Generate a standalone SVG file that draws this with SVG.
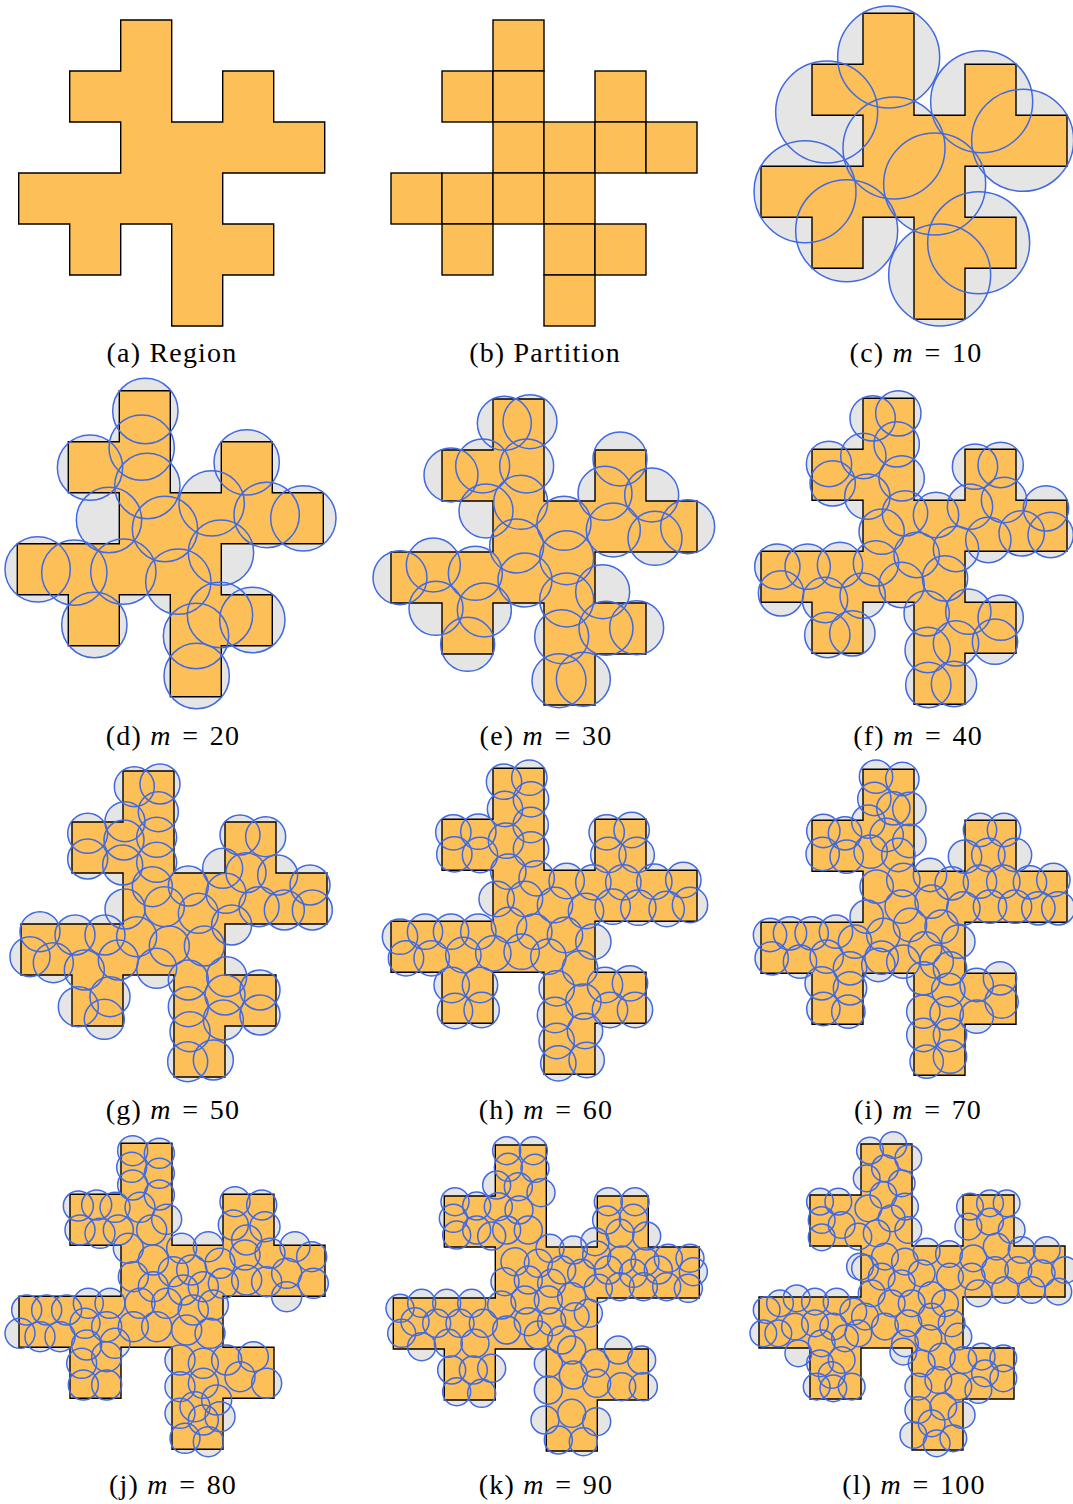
<svg xmlns="http://www.w3.org/2000/svg" xmlns:xlink="http://www.w3.org/1999/xlink" width="1073" height="1504" viewBox="0 0 1073 1504">
<style>
.shape{fill:#FDBF57;stroke:#000;stroke-width:1.4;stroke-linejoin:miter}
.cell{fill:#FDBF57;stroke:#000;stroke-width:1.4}
.halo{fill:#E5E5E5;stroke:none}
.ring{fill:none;stroke:#4169E1;stroke-width:4.5}
.cap{font-family:"Liberation Serif","DejaVu Serif",serif;font-size:28px;letter-spacing:1.2px;text-anchor:middle;fill:#000}
</style>
<defs>
<path id="region" d="M102,0H153V102H204V51H255V102H306V153H204V204H255V255H204V306H153V204H102V255H51V204H0V153H102V102H51V51H102Z"/>
<g id="cc" transform="translate(750,0) scale(0.333333)">
<circle cx="416" cy="171" r="153"/><circle cx="230" cy="336" r="153"/><circle cx="695" cy="305" r="153"/><circle cx="818" cy="421" r="153"/><circle cx="432" cy="444" r="153"/><circle cx="554" cy="552" r="153"/><circle cx="165" cy="575" r="153"/><circle cx="290" cy="692" r="153"/><circle cx="686" cy="728" r="153"/><circle cx="569" cy="825" r="153"/>
</g>
<g id="cd" transform="translate(0,375) scale(0.333333)">
<circle cx="436" cy="108" r="98"/><circle cx="425" cy="218" r="98"/><circle cx="270" cy="278" r="98"/><circle cx="442" cy="333" r="98"/><circle cx="740" cy="262" r="98"/><circle cx="635" cy="385" r="98"/><circle cx="327" cy="435" r="98"/><circle cx="495" cy="462" r="98"/><circle cx="800" cy="420" r="98"/><circle cx="910" cy="430" r="98"/><circle cx="663" cy="533" r="98"/><circle cx="113" cy="583" r="98"/><circle cx="223" cy="593" r="98"/><circle cx="370" cy="590" r="98"/><circle cx="535" cy="620" r="98"/><circle cx="283" cy="750" r="98"/><circle cx="588" cy="783" r="98"/><circle cx="660" cy="720" r="98"/><circle cx="757" cy="735" r="98"/><circle cx="590" cy="903" r="98"/>
</g>
<g id="ce" transform="translate(370,385) scale(0.333333)">
<circle cx="403" cy="115" r="81"/><circle cx="480" cy="110" r="81"/><circle cx="243" cy="270" r="81"/><circle cx="338" cy="243" r="81"/><circle cx="470" cy="243" r="81"/><circle cx="348" cy="378" r="81"/><circle cx="452" cy="352" r="81"/><circle cx="750" cy="222" r="81"/><circle cx="705" cy="325" r="81"/><circle cx="845" cy="330" r="81"/><circle cx="582" cy="415" r="81"/><circle cx="730" cy="435" r="81"/><circle cx="855" cy="460" r="81"/><circle cx="953" cy="425" r="81"/><circle cx="440" cy="483" r="81"/><circle cx="590" cy="518" r="81"/><circle cx="90" cy="578" r="81"/><circle cx="190" cy="540" r="81"/><circle cx="316" cy="565" r="81"/><circle cx="465" cy="585" r="81"/><circle cx="198" cy="670" r="81"/><circle cx="343" cy="675" r="81"/><circle cx="590" cy="645" r="81"/><circle cx="698" cy="620" r="81"/><circle cx="293" cy="778" r="81"/><circle cx="575" cy="755" r="81"/><circle cx="708" cy="730" r="81"/><circle cx="800" cy="728" r="81"/><circle cx="567" cy="887" r="81"/><circle cx="640" cy="883" r="81"/>
</g>
<g id="cf" transform="translate(750,385) scale(0.333333)">
<circle cx="368" cy="100" r="68"/><circle cx="445" cy="85" r="68"/><circle cx="440" cy="178" r="68"/><circle cx="237" cy="237" r="68"/><circle cx="340" cy="213" r="68"/><circle cx="248" cy="295" r="68"/><circle cx="352" cy="335" r="68"/><circle cx="455" cy="280" r="68"/><circle cx="675" cy="245" r="68"/><circle cx="752" cy="240" r="68"/><circle cx="660" cy="365" r="68"/><circle cx="762" cy="345" r="68"/><circle cx="888" cy="370" r="68"/><circle cx="815" cy="445" r="68"/><circle cx="902" cy="450" r="68"/><circle cx="715" cy="465" r="68"/><circle cx="465" cy="385" r="68"/><circle cx="558" cy="390" r="68"/><circle cx="395" cy="440" r="68"/><circle cx="500" cy="510" r="68"/><circle cx="618" cy="492" r="68"/><circle cx="585" cy="580" r="68"/><circle cx="82" cy="545" r="68"/><circle cx="173" cy="545" r="68"/><circle cx="270" cy="540" r="68"/><circle cx="378" cy="535" r="68"/><circle cx="93" cy="625" r="68"/><circle cx="225" cy="645" r="68"/><circle cx="338" cy="632" r="68"/><circle cx="455" cy="600" r="68"/><circle cx="530" cy="685" r="68"/><circle cx="655" cy="680" r="68"/><circle cx="752" cy="698" r="68"/><circle cx="618" cy="775" r="68"/><circle cx="735" cy="770" r="68"/><circle cx="232" cy="750" r="68"/><circle cx="307" cy="745" r="68"/><circle cx="533" cy="795" r="68"/><circle cx="535" cy="900" r="68"/><circle cx="612" cy="897" r="68"/>
</g>
<g id="cg" transform="translate(0,760) scale(0.333333)">
<circle cx="403" cy="80" r="60"/><circle cx="480" cy="72" r="60"/><circle cx="475" cy="155" r="60"/><circle cx="375" cy="185" r="60"/><circle cx="263" cy="220" r="60"/><circle cx="470" cy="232" r="60"/><circle cx="372" cy="240" r="60"/><circle cx="263" cy="297" r="60"/><circle cx="470" cy="307" r="60"/><circle cx="368" cy="315" r="60"/><circle cx="375" cy="447" r="60"/><circle cx="457" cy="380" r="60"/><circle cx="565" cy="378" r="60"/><circle cx="668" cy="325" r="60"/><circle cx="720" cy="225" r="60"/><circle cx="797" cy="230" r="60"/><circle cx="738" cy="338" r="60"/><circle cx="833" cy="345" r="60"/><circle cx="930" cy="375" r="60"/><circle cx="678" cy="400" r="60"/><circle cx="777" cy="440" r="60"/><circle cx="853" cy="450" r="60"/><circle cx="937" cy="450" r="60"/><circle cx="493" cy="440" r="60"/><circle cx="595" cy="460" r="60"/><circle cx="695" cy="495" r="60"/><circle cx="410" cy="530" r="60"/><circle cx="508" cy="558" r="60"/><circle cx="613" cy="558" r="60"/><circle cx="120" cy="515" r="60"/><circle cx="225" cy="525" r="60"/><circle cx="315" cy="525" r="60"/><circle cx="90" cy="590" r="60"/><circle cx="160" cy="608" r="60"/><circle cx="253" cy="630" r="60"/><circle cx="355" cy="600" r="60"/><circle cx="470" cy="625" r="60"/><circle cx="565" cy="660" r="60"/><circle cx="680" cy="650" r="60"/><circle cx="780" cy="690" r="60"/><circle cx="235" cy="740" r="60"/><circle cx="330" cy="710" r="60"/><circle cx="313" cy="778" r="60"/><circle cx="565" cy="740" r="60"/><circle cx="675" cy="705" r="60"/><circle cx="670" cy="780" r="60"/><circle cx="780" cy="765" r="60"/><circle cx="570" cy="815" r="60"/><circle cx="563" cy="905" r="60"/><circle cx="640" cy="900" r="60"/>
</g>
<g id="ch" transform="translate(375,755) scale(0.333333)">
<circle cx="387" cy="80" r="53"/><circle cx="463" cy="68" r="53"/><circle cx="468" cy="133" r="53"/><circle cx="390" cy="162" r="53"/><circle cx="467" cy="210" r="53"/><circle cx="393" cy="257" r="53"/><circle cx="468" cy="283" r="53"/>
<circle cx="235" cy="232" r="53"/><circle cx="310" cy="230" r="53"/><circle cx="238" cy="298" r="53"/><circle cx="315" cy="300" r="53"/>
<circle cx="400" cy="350" r="53"/><circle cx="485" cy="370" r="53"/><circle cx="575" cy="378" r="53"/><circle cx="365" cy="432" r="53"/><circle cx="450" cy="432" r="53"/><circle cx="540" cy="450" r="53"/>
<circle cx="655" cy="382" r="53"/><circle cx="745" cy="382" r="53"/><circle cx="838" cy="380" r="53"/><circle cx="925" cy="375" r="53"/><circle cx="633" cy="468" r="53"/><circle cx="713" cy="455" r="53"/><circle cx="790" cy="458" r="53"/><circle cx="875" cy="462" r="53"/><circle cx="945" cy="450" r="53"/>
<circle cx="695" cy="232" r="53"/><circle cx="770" cy="225" r="53"/><circle cx="700" cy="300" r="53"/><circle cx="785" cy="300" r="53"/>
<circle cx="402" cy="510" r="53"/><circle cx="478" cy="530" r="53"/><circle cx="570" cy="540" r="53"/><circle cx="655" cy="560" r="53"/>
<circle cx="75" cy="545" r="53"/><circle cx="150" cy="530" r="53"/><circle cx="228" cy="530" r="53"/><circle cx="310" cy="530" r="53"/><circle cx="93" cy="610" r="53"/><circle cx="170" cy="610" r="53"/><circle cx="265" cy="600" r="53"/><circle cx="355" cy="595" r="53"/><circle cx="440" cy="590" r="53"/><circle cx="520" cy="605" r="53"/>
<circle cx="230" cy="690" r="53"/><circle cx="315" cy="690" r="53"/><circle cx="240" cy="768" r="53"/><circle cx="320" cy="765" r="53"/>
<circle cx="615" cy="640" r="53"/><circle cx="545" cy="700" r="53"/><circle cx="625" cy="740" r="53"/><circle cx="690" cy="690" r="53"/><circle cx="765" cy="685" r="53"/><circle cx="705" cy="765" r="53"/><circle cx="780" cy="765" r="53"/>
<circle cx="540" cy="780" r="53"/><circle cx="545" cy="858" r="53"/><circle cx="630" cy="828" r="53"/><circle cx="550" cy="925" r="53"/><circle cx="635" cy="915" r="53"/>
</g>
<g id="ci" transform="translate(750,755) scale(0.333333)">
<circle cx="378" cy="65" r="50"/><circle cx="457" cy="72" r="50"/><circle cx="373" cy="132" r="50"/><circle cx="430" cy="160" r="50"/><circle cx="478" cy="162" r="50"/><circle cx="355" cy="200" r="50"/><circle cx="410" cy="240" r="50"/><circle cx="478" cy="258" r="50"/><circle cx="362" cy="290" r="50"/><circle cx="445" cy="300" r="50"/>
<circle cx="220" cy="228" r="50"/><circle cx="285" cy="235" r="50"/><circle cx="218" cy="297" r="50"/><circle cx="290" cy="305" r="50"/>
<circle cx="690" cy="225" r="50"/><circle cx="762" cy="225" r="50"/><circle cx="645" cy="305" r="50"/><circle cx="715" cy="300" r="50"/><circle cx="795" cy="300" r="50"/>
<circle cx="540" cy="360" r="50"/><circle cx="605" cy="385" r="50"/><circle cx="690" cy="380" r="50"/><circle cx="760" cy="380" r="50"/><circle cx="840" cy="382" r="50"/><circle cx="910" cy="375" r="50"/><circle cx="640" cy="460" r="50"/><circle cx="720" cy="455" r="50"/><circle cx="795" cy="455" r="50"/><circle cx="865" cy="460" r="50"/><circle cx="925" cy="460" r="50"/>
<circle cx="380" cy="395" r="50"/><circle cx="460" cy="375" r="50"/><circle cx="545" cy="440" r="50"/><circle cx="455" cy="455" r="50"/><circle cx="350" cy="485" r="50"/><circle cx="400" cy="540" r="50"/><circle cx="480" cy="510" r="50"/><circle cx="575" cy="515" r="50"/><circle cx="625" cy="560" r="50"/><circle cx="525" cy="580" r="50"/><circle cx="395" cy="608" r="50"/>
<circle cx="60" cy="540" r="50"/><circle cx="120" cy="535" r="50"/><circle cx="185" cy="535" r="50"/><circle cx="258" cy="530" r="50"/><circle cx="315" cy="560" r="50"/><circle cx="65" cy="610" r="50"/><circle cx="150" cy="620" r="50"/><circle cx="230" cy="605" r="50"/><circle cx="300" cy="640" r="50"/><circle cx="385" cy="630" r="50"/><circle cx="460" cy="620" r="50"/>
<circle cx="215" cy="685" r="50"/><circle cx="300" cy="700" r="50"/><circle cx="220" cy="762" r="50"/><circle cx="295" cy="770" r="50"/>
<circle cx="520" cy="670" r="50"/><circle cx="600" cy="640" r="50"/><circle cx="595" cy="705" r="50"/><circle cx="680" cy="690" r="50"/><circle cx="750" cy="670" r="50"/><circle cx="755" cy="740" r="50"/><circle cx="680" cy="785" r="50"/><circle cx="520" cy="770" r="50"/><circle cx="600" cy="840" r="50"/><circle cx="520" cy="840" r="50"/><circle cx="600" cy="905" r="50"/><circle cx="530" cy="920" r="50"/><circle cx="560" cy="620" r="50"/><circle cx="590" cy="775" r="50"/>
</g>
<g id="cj" transform="translate(0,1130) scale(0.333333)">
<circle cx="398" cy="62" r="45"/><circle cx="478" cy="70" r="45"/><circle cx="395" cy="112" r="45"/><circle cx="478" cy="130" r="45"/><circle cx="398" cy="165" r="45"/><circle cx="478" cy="195" r="45"/><circle cx="420" cy="232" r="45"/><circle cx="500" cy="268" r="45"/><circle cx="455" cy="300" r="45"/><circle cx="385" cy="355" r="45"/>
<circle cx="235" cy="228" r="45"/><circle cx="290" cy="225" r="45"/><circle cx="345" cy="232" r="45"/><circle cx="240" cy="300" r="45"/><circle cx="300" cy="310" r="45"/><circle cx="355" cy="300" r="45"/>
<circle cx="705" cy="215" r="45"/><circle cx="785" cy="225" r="45"/><circle cx="700" cy="285" r="45"/><circle cx="795" cy="290" r="45"/><circle cx="740" cy="330" r="45"/>
<circle cx="545" cy="355" r="45"/><circle cx="625" cy="350" r="45"/><circle cx="575" cy="420" r="45"/><circle cx="660" cy="400" r="45"/><circle cx="735" cy="375" r="45"/><circle cx="810" cy="370" r="45"/><circle cx="885" cy="350" r="45"/><circle cx="935" cy="380" r="45"/><circle cx="670" cy="460" r="45"/><circle cx="740" cy="450" r="45"/><circle cx="800" cy="455" r="45"/><circle cx="860" cy="430" r="45"/><circle cx="940" cy="460" r="45"/><circle cx="860" cy="500" r="45"/>
<circle cx="460" cy="390" r="45"/><circle cx="520" cy="425" r="45"/><circle cx="400" cy="440" r="45"/><circle cx="460" cy="470" r="45"/><circle cx="550" cy="480" r="45"/><circle cx="610" cy="470" r="45"/><circle cx="420" cy="520" r="45"/><circle cx="500" cy="520" r="45"/><circle cx="580" cy="540" r="45"/><circle cx="640" cy="525" r="45"/><circle cx="400" cy="590" r="45"/><circle cx="470" cy="590" r="45"/><circle cx="560" cy="600" r="45"/><circle cx="630" cy="610" r="45"/>
<circle cx="80" cy="540" r="45"/><circle cx="140" cy="540" r="45"/><circle cx="200" cy="540" r="45"/><circle cx="265" cy="520" r="45"/><circle cx="330" cy="520" r="45"/><circle cx="60" cy="610" r="45"/><circle cx="120" cy="620" r="45"/><circle cx="180" cy="620" r="45"/><circle cx="255" cy="580" r="45"/><circle cx="320" cy="590" r="45"/>
<circle cx="245" cy="700" r="45"/><circle cx="320" cy="680" r="45"/><circle cx="250" cy="765" r="45"/><circle cx="320" cy="765" r="45"/><circle cx="260" cy="645" r="45"/><circle cx="345" cy="640" r="45"/>
<circle cx="540" cy="690" r="45"/><circle cx="610" cy="700" r="45"/><circle cx="680" cy="690" r="45"/><circle cx="760" cy="680" r="45"/><circle cx="720" cy="740" r="45"/><circle cx="800" cy="760" r="45"/><circle cx="610" cy="760" r="45"/><circle cx="540" cy="770" r="45"/><circle cx="650" cy="810" r="45"/>
<circle cx="540" cy="850" r="45"/><circle cx="610" cy="870" r="45"/><circle cx="660" cy="860" r="45"/><circle cx="555" cy="925" r="45"/><circle cx="625" cy="935" r="45"/><circle cx="585" cy="830" r="45"/>
</g>
<g id="ck" transform="translate(375,1130) scale(0.333333)">
<circle cx="395" cy="62" r="42"/><circle cx="475" cy="62" r="42"/><circle cx="400" cy="112" r="42"/><circle cx="480" cy="115" r="42"/><circle cx="365" cy="165" r="42"/><circle cx="430" cy="170" r="42"/><circle cx="498" cy="188" r="42"/><circle cx="370" cy="230" r="42"/><circle cx="432" cy="240" r="42"/><circle cx="395" cy="300" r="42"/><circle cx="460" cy="300" r="42"/>
<circle cx="240" cy="215" r="42"/><circle cx="305" cy="228" r="42"/><circle cx="235" cy="265" r="42"/><circle cx="245" cy="315" r="42"/><circle cx="305" cy="300" r="42"/><circle cx="350" cy="318" r="42"/>
<circle cx="700" cy="215" r="42"/><circle cx="780" cy="215" r="42"/><circle cx="695" cy="270" r="42"/><circle cx="775" cy="265" r="42"/><circle cx="660" cy="335" r="42"/><circle cx="735" cy="310" r="42"/><circle cx="815" cy="318" r="42"/>
<circle cx="525" cy="355" r="42"/><circle cx="595" cy="360" r="42"/><circle cx="665" cy="375" r="42"/><circle cx="740" cy="390" r="42"/><circle cx="810" cy="395" r="42"/><circle cx="880" cy="385" r="42"/><circle cx="945" cy="385" r="42"/><circle cx="955" cy="425" r="42"/><circle cx="940" cy="475" r="42"/><circle cx="875" cy="470" r="42"/><circle cx="805" cy="470" r="42"/><circle cx="735" cy="470" r="42"/><circle cx="670" cy="475" r="42"/><circle cx="700" cy="420" r="42"/><circle cx="775" cy="430" r="42"/><circle cx="850" cy="420" r="42"/><circle cx="620" cy="430" r="42"/>
<circle cx="420" cy="395" r="42"/><circle cx="490" cy="400" r="42"/><circle cx="560" cy="420" r="42"/><circle cx="390" cy="455" r="42"/><circle cx="460" cy="450" r="42"/><circle cx="530" cy="460" r="42"/><circle cx="590" cy="500" r="42"/><circle cx="520" cy="510" r="42"/><circle cx="450" cy="510" r="42"/><circle cx="380" cy="525" r="42"/><circle cx="600" cy="560" r="42"/><circle cx="530" cy="575" r="42"/><circle cx="460" cy="575" r="42"/><circle cx="395" cy="600" r="42"/><circle cx="560" cy="630" r="42"/><circle cx="490" cy="615" r="42"/><circle cx="640" cy="550" r="42"/>
<circle cx="75" cy="535" r="42"/><circle cx="140" cy="520" r="42"/><circle cx="215" cy="520" r="42"/><circle cx="290" cy="520" r="42"/><circle cx="80" cy="610" r="42"/><circle cx="120" cy="575" r="42"/><circle cx="185" cy="580" r="42"/><circle cx="255" cy="580" r="42"/><circle cx="325" cy="580" r="42"/><circle cx="140" cy="650" r="42"/><circle cx="220" cy="640" r="42"/><circle cx="300" cy="640" r="42"/>
<circle cx="230" cy="720" r="42"/><circle cx="295" cy="720" r="42"/><circle cx="350" cy="715" r="42"/><circle cx="245" cy="785" r="42"/><circle cx="320" cy="790" r="42"/>
<circle cx="520" cy="700" r="42"/><circle cx="590" cy="660" r="42"/><circle cx="660" cy="700" r="42"/><circle cx="730" cy="660" r="42"/><circle cx="800" cy="690" r="42"/><circle cx="595" cy="735" r="42"/><circle cx="665" cy="760" r="42"/><circle cx="740" cy="770" r="42"/><circle cx="805" cy="770" r="42"/><circle cx="520" cy="780" r="42"/>
<circle cx="510" cy="870" r="42"/><circle cx="590" cy="850" r="42"/><circle cx="665" cy="875" r="42"/><circle cx="550" cy="930" r="42"/><circle cx="625" cy="935" r="42"/>
</g>
<g id="cl" transform="translate(745,1130) scale(0.333333)">
<circle cx="375" cy="62" r="40"/><circle cx="445" cy="45" r="40"/><circle cx="490" cy="85" r="40"/><circle cx="365" cy="145" r="40"/><circle cx="420" cy="115" r="40"/><circle cx="470" cy="160" r="40"/><circle cx="415" cy="195" r="40"/><circle cx="480" cy="230" r="40"/><circle cx="370" cy="235" r="40"/><circle cx="440" cy="265" r="40"/><circle cx="490" cy="300" r="40"/><circle cx="395" cy="310" r="40"/>
<circle cx="225" cy="215" r="40"/><circle cx="280" cy="215" r="40"/><circle cx="230" cy="270" r="40"/><circle cx="230" cy="322" r="40"/><circle cx="290" cy="285" r="40"/><circle cx="340" cy="320" r="40"/>
<circle cx="675" cy="230" r="40"/><circle cx="735" cy="220" r="40"/><circle cx="785" cy="220" r="40"/><circle cx="670" cy="290" r="40"/><circle cx="735" cy="275" r="40"/><circle cx="800" cy="300" r="40"/>
<circle cx="545" cy="365" r="40"/><circle cx="612" cy="372" r="40"/><circle cx="685" cy="385" r="40"/><circle cx="755" cy="350" r="40"/><circle cx="830" cy="360" r="40"/><circle cx="905" cy="360" r="40"/><circle cx="960" cy="420" r="40"/><circle cx="890" cy="430" r="40"/><circle cx="820" cy="420" r="40"/><circle cx="750" cy="420" r="40"/><circle cx="680" cy="440" r="40"/><circle cx="615" cy="440" r="40"/><circle cx="940" cy="485" r="40"/><circle cx="860" cy="480" r="40"/><circle cx="780" cy="480" r="40"/><circle cx="700" cy="490" r="40"/>
<circle cx="360" cy="415" r="40"/><circle cx="420" cy="380" r="40"/><circle cx="480" cy="395" r="40"/><circle cx="410" cy="440" r="40"/><circle cx="470" cy="460" r="40"/><circle cx="530" cy="430" r="40"/><circle cx="560" cy="495" r="40"/><circle cx="500" cy="520" r="40"/><circle cx="440" cy="520" r="40"/><circle cx="380" cy="490" r="40"/><circle cx="600" cy="520" r="40"/><circle cx="620" cy="580" r="40"/><circle cx="560" cy="560" r="40"/><circle cx="490" cy="580" r="40"/><circle cx="420" cy="590" r="40"/><circle cx="360" cy="560" r="40"/><circle cx="550" cy="625" r="40"/><circle cx="480" cy="640" r="40"/><circle cx="640" cy="620" r="40"/>
<circle cx="65" cy="540" r="40"/><circle cx="105" cy="520" r="40"/><circle cx="155" cy="505" r="40"/><circle cx="210" cy="515" r="40"/><circle cx="275" cy="515" r="40"/><circle cx="325" cy="545" r="40"/><circle cx="55" cy="610" r="40"/><circle cx="100" cy="610" r="40"/><circle cx="150" cy="590" r="40"/><circle cx="210" cy="580" r="40"/><circle cx="265" cy="590" r="40"/><circle cx="160" cy="670" r="40"/><circle cx="230" cy="640" r="40"/><circle cx="300" cy="625" r="40"/><circle cx="340" cy="610" r="40"/>
<circle cx="225" cy="700" r="40"/><circle cx="290" cy="690" r="40"/><circle cx="215" cy="770" r="40"/><circle cx="265" cy="775" r="40"/><circle cx="320" cy="770" r="40"/><circle cx="260" cy="735" r="40"/>
<circle cx="530" cy="700" r="40"/><circle cx="590" cy="680" r="40"/><circle cx="655" cy="690" r="40"/><circle cx="710" cy="680" r="40"/><circle cx="775" cy="685" r="40"/><circle cx="720" cy="730" r="40"/><circle cx="775" cy="745" r="40"/><circle cx="700" cy="780" r="40"/><circle cx="640" cy="770" r="40"/><circle cx="580" cy="750" r="40"/><circle cx="520" cy="770" r="40"/>
<circle cx="520" cy="840" r="40"/><circle cx="595" cy="830" r="40"/><circle cx="650" cy="855" r="40"/><circle cx="560" cy="880" r="40"/><circle cx="505" cy="915" r="40"/><circle cx="575" cy="940" r="40"/><circle cx="625" cy="925" r="40"/>
<circle cx="475" cy="665" r="40"/><circle cx="345" cy="410" r="40"/>
</g>
</defs>
<rect width="1073" height="1504" fill="#fff"/>
<g id="panel-a">
<use href="#region" class="shape" transform="translate(18.7,20)"/>
</g>
<g id="panel-b" transform="translate(391,20)">
<rect class="cell" x="102" y="0" width="51" height="51"/>
<rect class="cell" x="51" y="51" width="51" height="51"/><rect class="cell" x="102" y="51" width="51" height="51"/><rect class="cell" x="204" y="51" width="51" height="51"/>
<rect class="cell" x="102" y="102" width="51" height="51"/><rect class="cell" x="153" y="102" width="51" height="51"/><rect class="cell" x="204" y="102" width="51" height="51"/><rect class="cell" x="255" y="102" width="51" height="51"/>
<rect class="cell" x="0" y="153" width="51" height="51"/><rect class="cell" x="51" y="153" width="51" height="51"/><rect class="cell" x="102" y="153" width="51" height="51"/><rect class="cell" x="153" y="153" width="51" height="51"/>
<rect class="cell" x="51" y="204" width="51" height="51"/><rect class="cell" x="153" y="204" width="51" height="51"/><rect class="cell" x="204" y="204" width="51" height="51"/>
<rect class="cell" x="153" y="255" width="51" height="51"/>
</g>
<g id="panel-c"><use href="#cc" class="halo"/><use href="#region" class="shape" transform="translate(761,13.3)"/><use href="#cc" class="ring"/></g>
<g id="panel-d"><use href="#cd" class="halo"/><use href="#region" class="shape" transform="translate(17.3,390.7)"/><use href="#cd" class="ring"/></g>
<g id="panel-e"><use href="#ce" class="halo"/><use href="#region" class="shape" transform="translate(391,399)"/><use href="#ce" class="ring"/></g>
<g id="panel-f"><use href="#cf" class="halo"/><use href="#region" class="shape" transform="translate(761,398.3)"/><use href="#cf" class="ring"/></g>
<g id="panel-g"><use href="#cg" class="halo"/><use href="#region" class="shape" transform="translate(21,771)"/><use href="#cg" class="ring"/></g>
<g id="panel-h"><use href="#ch" class="halo"/><use href="#region" class="shape" transform="translate(391,768.3)"/><use href="#ch" class="ring"/></g>
<g id="panel-i"><use href="#ci" class="halo"/><use href="#region" class="shape" transform="translate(761,769.3)"/><use href="#ci" class="ring"/></g>
<g id="panel-j"><use href="#cj" class="halo"/><use href="#region" class="shape" transform="translate(19,1143.3)"/><use href="#cj" class="ring"/></g>
<g id="panel-k"><use href="#ck" class="halo"/><use href="#region" class="shape" transform="translate(393.3,1145)"/><use href="#ck" class="ring"/></g>
<g id="panel-l"><use href="#cl" class="halo"/><use href="#region" class="shape" transform="translate(759,1144)"/><use href="#cl" class="ring"/></g>
<g id="captions">
<text class="cap" x="172" y="362">(a) Region</text>
<text class="cap" x="545" y="362">(b) Partition</text>
<text class="cap" x="916" y="362">(c) <tspan font-style="italic">m</tspan>&#8196;=&#8196;10</text>
<text class="cap" x="173" y="745">(d) <tspan font-style="italic">m</tspan>&#8196;=&#8196;20</text>
<text class="cap" x="546" y="745">(e) <tspan font-style="italic">m</tspan>&#8196;=&#8196;30</text>
<text class="cap" x="918" y="745">(f) <tspan font-style="italic">m</tspan>&#8196;=&#8196;40</text>
<text class="cap" x="173" y="1119">(g) <tspan font-style="italic">m</tspan>&#8196;=&#8196;50</text>
<text class="cap" x="546" y="1119">(h) <tspan font-style="italic">m</tspan>&#8196;=&#8196;60</text>
<text class="cap" x="918" y="1119">(i) <tspan font-style="italic">m</tspan>&#8196;=&#8196;70</text>
<text class="cap" x="173" y="1494">(j) <tspan font-style="italic">m</tspan>&#8196;=&#8196;80</text>
<text class="cap" x="546" y="1494">(k) <tspan font-style="italic">m</tspan>&#8196;=&#8196;90</text>
<text class="cap" x="914" y="1494">(l) <tspan font-style="italic">m</tspan>&#8196;=&#8196;100</text>
</g>
</svg>
